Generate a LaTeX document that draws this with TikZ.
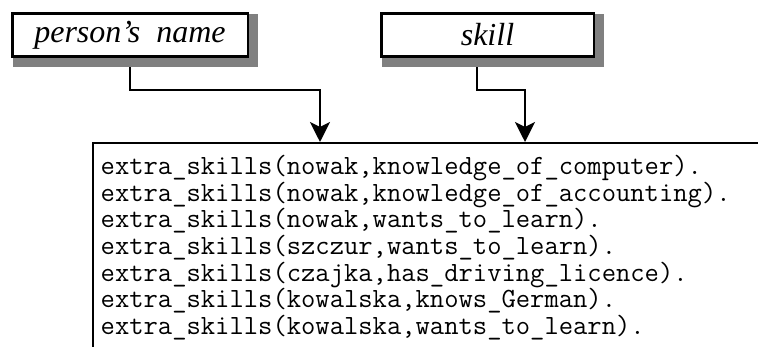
\documentclass[tikz,border=0pt]{standalone}
\usepackage{fontspec}
\newfontfamily\labelfont{Liberation Serif}
\usetikzlibrary{arrows.meta,backgrounds}
\tikzset{
  labelbox/.style={draw, line width=2.5pt, fill=white, inner sep=0pt,
    minimum height=43.25pt, font=\labelfont\itshape\fontsize{32}{36}\selectfont},
  shadowfill/.style={fill=black!50},
  link/.style={line width=1.8pt},
  arrowlink/.style={link, -{Stealth[length=20pt,width=20pt,inset=5pt]}},
  framestroke/.style={line width=2pt},
  codeline/.style={anchor=base west, inner sep=0pt,
    font=\ttfamily\fontsize{27.8}{30}\selectfont},
}
\begin{document}
\begin{tikzpicture}[x=1pt,y=1pt]
\useasboundingbox (0,0) rectangle (758,347);
% label boxes
\node[labelbox, minimum width=235.5pt] (p) at (130,312.1) {person’s\hspace{0.5em}name};
\node[labelbox, minimum width=212.5pt] (s) at (487.5,312.1) {skill};
% frame
\coordinate (fc) at (92.8,204);
\coordinate (fr) at (760,204);
\coordinate (fb) at (92.8,-2);
\draw[framestroke] (fb) -- (fc) -- (fr);
% connector waypoints
\coordinate (m1) at (320,257);
\coordinate (t1) at (320,205);
\coordinate (m2) at (525,257);
\coordinate (t2) at (525,205);
\begin{pgfonlayer}{background}
  \draw[arrowlink] (p.south) |- (m1) -- (t1);
  \draw[arrowlink] ([xshift=-10.5pt]s.south) |- (m2) -- (t2);
  \fill[shadowfill] ([shift={(2.25pt,-2.45pt)}]p.north west) rectangle ([shift={(8.95pt,-9.2pt)}]p.south east);
  \fill[shadowfill] ([shift={(2.25pt,-2.45pt)}]s.north west) rectangle ([shift={(8.95pt,-9.2pt)}]s.south east);
\end{pgfonlayer}
% facts
\node[codeline] (l1) at (100.5,172.5) {extra\_skills(nowak,knowledge\_of\_computer).};
\node[codeline] (l2) at (100.5,145.8) {extra\_skills(nowak,knowledge\_of\_accounting).};
\node[codeline] (l3) at (100.5,119.1) {extra\_skills(nowak,wants\_to\_learn).};
\node[codeline] (l4) at (100.5,92.4) {extra\_skills(szczur,wants\_to\_learn).};
\node[codeline] (l5) at (100.5,65.7) {extra\_skills(czajka,has\_driving\_licence).};
\node[codeline] (l6) at (100.5,39.0) {extra\_skills(kowalska,knows\_German).};
\node[codeline] (l7) at (100.5,12.3) {extra\_skills(kowalska,wants\_to\_learn).};
\end{tikzpicture}
\end{document}
